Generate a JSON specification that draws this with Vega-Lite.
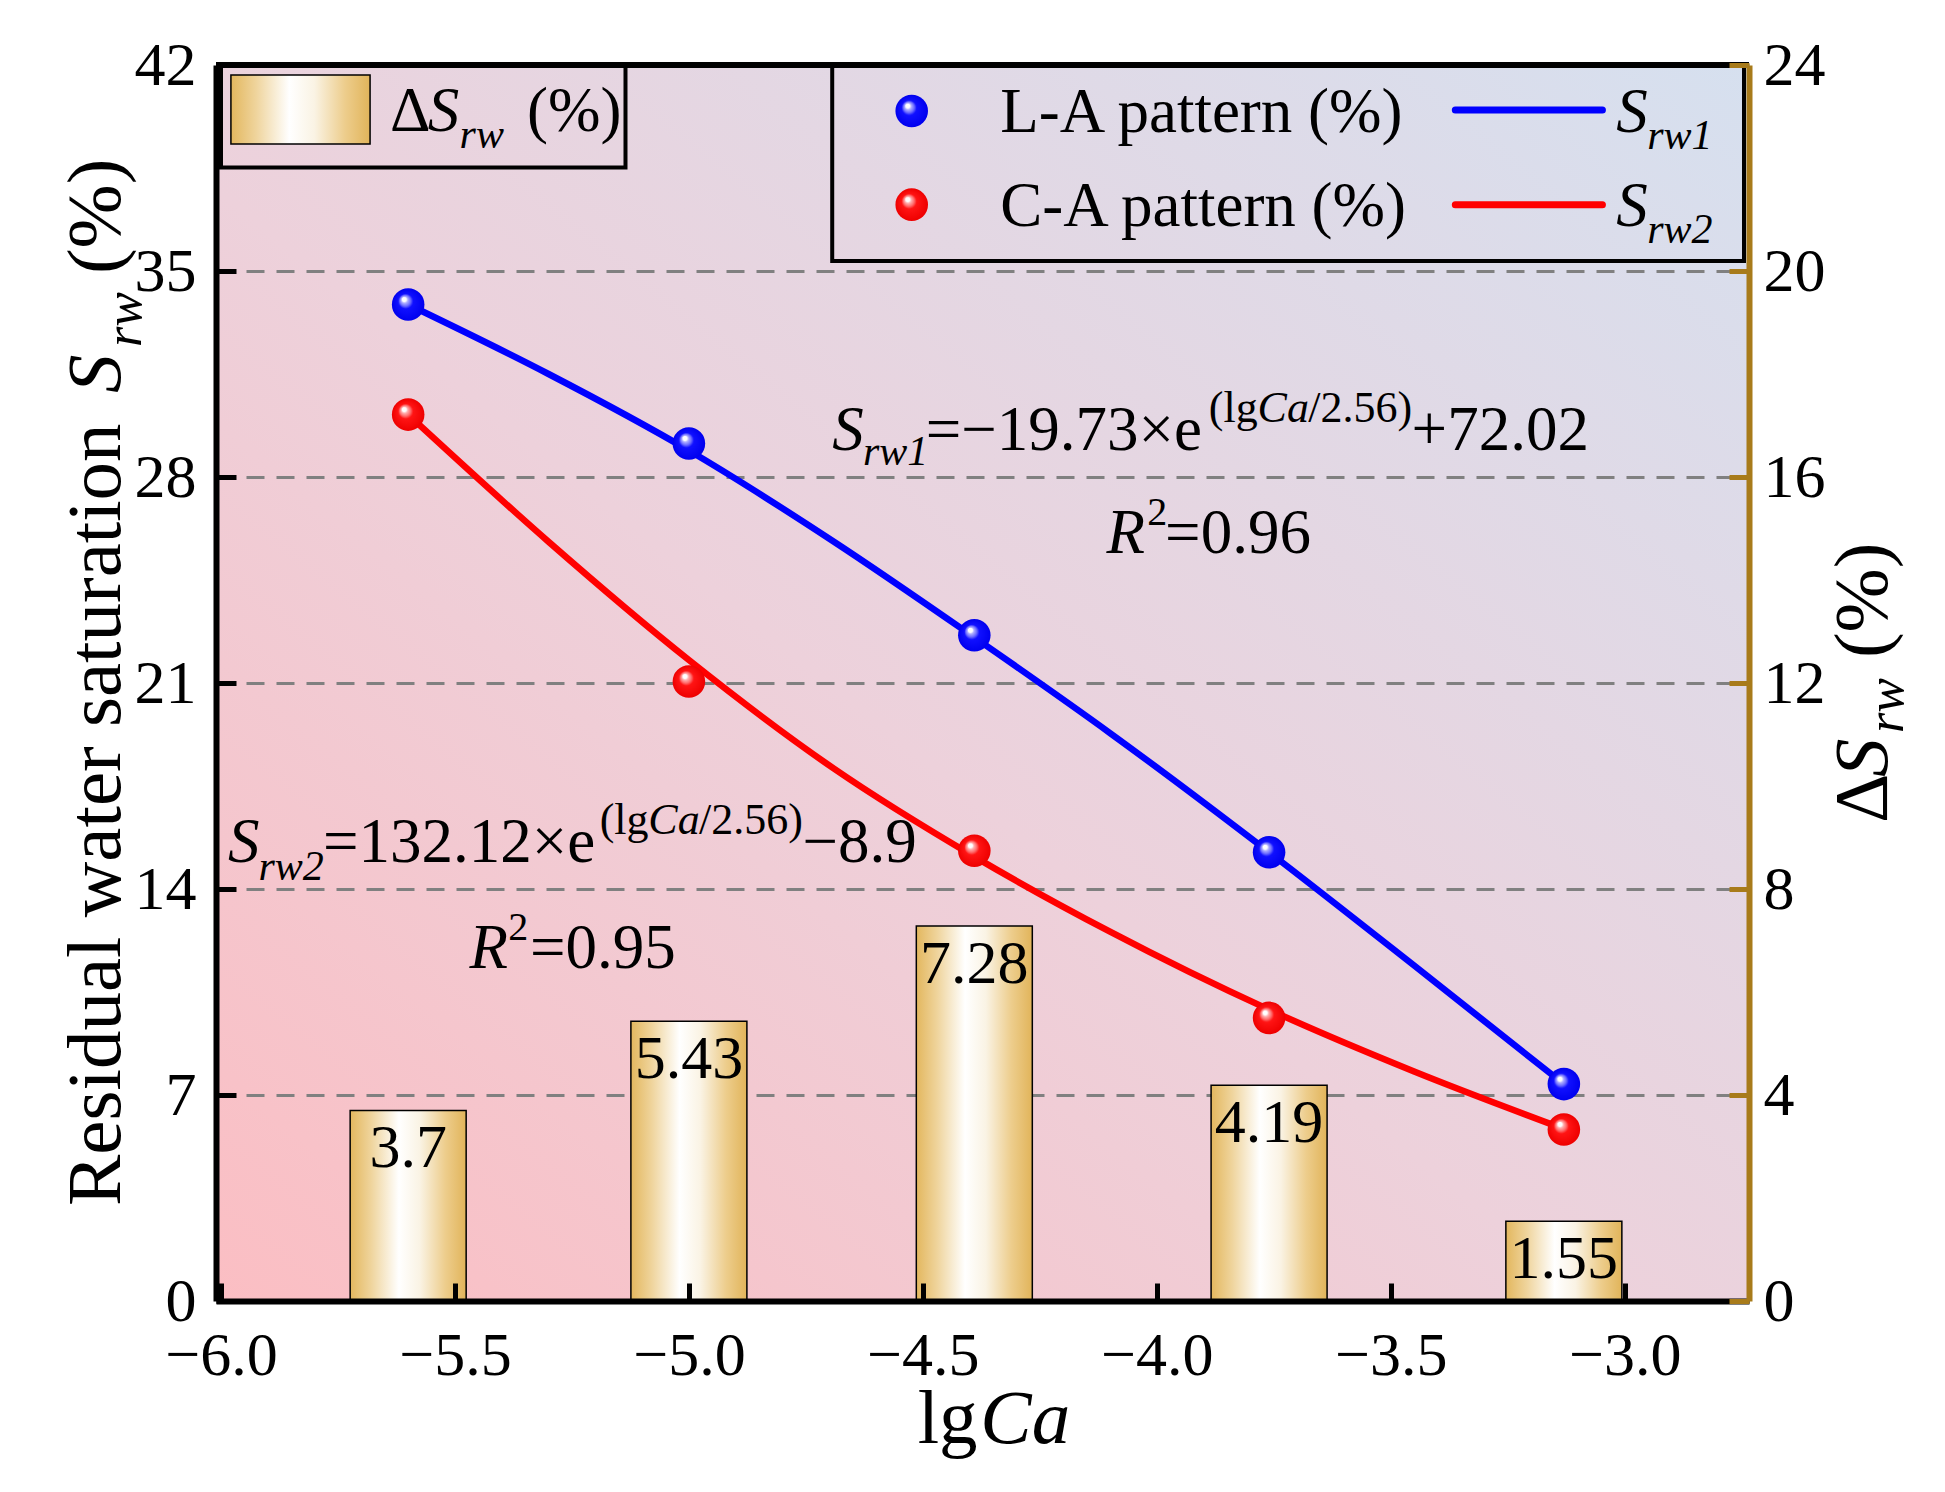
{
  "$schema": "https://vega.github.io/schema/vega-lite/v6.json",
  "width": 1533,
  "height": 1236,
  "autosize": {"type": "none"},
  "padding": {"left": 216, "top": 65, "right": 196, "bottom": 191},
  "background": "white",
  "config": {
    "view": {
      "stroke": null,
      "fill": {
        "gradient": "linear", "x1": 0, "y1": 1, "x2": 1, "y2": 0,
        "stops": [
          {"offset": 0, "color": "#FBBEC3"},
          {"offset": 0.45, "color": "#EDD1DB"},
          {"offset": 1, "color": "#D6E0EF"}
        ]
      }
    },
    "text": {"font": "Liberation Serif", "fontSize": 63, "align": "left", "baseline": "alphabetic", "color": "black"},
    "axis": {"labelFont": "Liberation Serif", "labelFontSize": 62, "labelColor": "black", "labelFlush": false, "labelOverlap": false, "tickWidth": 5, "domainWidth": 6}
  },
  "datasets": {
    "measured": [
      {"lgCa": -5.6, "LA": 33.86, "CA": 30.12, "dSrw": 3.7},
      {"lgCa": -5.0, "LA": 29.14, "CA": 21.05, "dSrw": 5.43},
      {"lgCa": -4.39, "LA": 22.62, "CA": 15.3, "dSrw": 7.28},
      {"lgCa": -3.76, "LA": 15.25, "CA": 9.62, "dSrw": 4.19},
      {"lgCa": -3.13, "LA": 7.37, "CA": 5.83, "dSrw": 1.55}
    ],
    "curves": [
      {"lgCa": -5.6, "Srw1": 33.86, "Srw2": 30.12},
      {"lgCa": -5.3, "Srw1": 31.5, "Srw2": 25.8},
      {"lgCa": -5.0, "Srw1": 28.9, "Srw2": 21.78},
      {"lgCa": -4.69, "Srw1": 25.8, "Srw2": 18.09},
      {"lgCa": -4.39, "Srw1": 22.55, "Srw2": 15.1},
      {"lgCa": -4.1, "Srw1": 19.3, "Srw2": 12.55},
      {"lgCa": -3.76, "Srw1": 15.25, "Srw2": 9.9},
      {"lgCa": -3.45, "Srw1": 11.4, "Srw2": 7.8},
      {"lgCa": -3.13, "Srw1": 7.37, "Srw2": 5.85}
    ]
  },
  "layer": [
    {
      "data": {"name": "measured"},
      "layer": [
        {
          "mark": {
            "type": "bar", "width": 116, "stroke": "black", "strokeWidth": 1.5,
            "fill": {
              "gradient": "linear", "x1": 0, "y1": 0, "x2": 1, "y2": 0,
              "stops": [
                {"offset": 0, "color": "#E3B75E"},
                {"offset": 0.18, "color": "#EFD49C"},
                {"offset": 0.42, "color": "#FFFFFF"},
                {"offset": 0.6, "color": "#FAF3E4"},
                {"offset": 0.82, "color": "#EDCD8C"},
                {"offset": 1, "color": "#E1B45A"}
              ]
            }
          },
          "encoding": {
            "x": {
              "field": "lgCa", "type": "quantitative", "title": null,
              "scale": {"domain": [-6, -2.745], "nice": false, "zero": false},
              "axis": {"orient": "bottom", "title": null, "values": [-6, -5.5, -5, -4.5, -4, -3.5, -3], "format": ".1f", "grid": false, "domainColor": "black", "tickColor": "black", "tickSize": -18, "labelPadding": 42, "zindex": 1}
            },
            "y": {
              "field": "dSrw", "type": "quantitative", "title": null,
              "scale": {"domain": [0, 24], "nice": false},
              "axis": {"orient": "right", "title": null, "values": [0, 4, 8, 12, 16, 20, 24], "grid": false, "domainColor": "#A87B1A", "tickColor": "#A87B1A", "tickSize": -20, "labelPadding": 34, "zindex": 1}
            }
          }
        },
        {
          "mark": {"type": "text", "align": "center", "dy": 57, "fontSize": 62},
          "encoding": {
            "x": {"field": "lgCa", "type": "quantitative", "title": null},
            "y": {"field": "dSrw", "type": "quantitative", "title": null},
            "text": {"field": "dSrw", "type": "quantitative"}
          }
        }
      ]
    },
    {
      "layer": [
        {
          "data": {"name": "curves"},
          "mark": {"type": "line", "color": "#0000FF", "strokeWidth": 6.5, "interpolate": "monotone"},
          "encoding": {
            "x": {"field": "lgCa", "type": "quantitative", "title": null},
            "y": {
              "field": "Srw1", "type": "quantitative", "title": null,
              "scale": {"domain": [0, 42], "nice": false},
              "axis": {"orient": "left", "title": null, "values": [0, 7, 14, 21, 28, 35, 42], "grid": true, "gridDash": [18, 12], "gridColor": "#808080", "gridWidth": 3, "domainColor": "black", "tickColor": "black", "tickSize": -20, "labelPadding": 40}
            }
          }
        },
        {
          "data": {"name": "curves"},
          "mark": {"type": "line", "color": "#FF0000", "strokeWidth": 6.5, "interpolate": "monotone"},
          "encoding": {
            "x": {"field": "lgCa", "type": "quantitative", "title": null},
            "y": {"field": "Srw2", "type": "quantitative", "title": null}
          }
        },
        {
          "data": {"name": "measured"},
          "mark": {
            "type": "point", "shape": "circle", "filled": true, "size": 1060, "opacity": 1, "strokeWidth": 0,
            "fill": {
              "gradient": "radial", "x1": 0.36, "y1": 0.32, "r1": 0, "x2": 0.5, "y2": 0.5, "r2": 0.5,
              "stops": [
                {"offset": 0, "color": "#FFFFFF"},
                {"offset": 0.13, "color": "#FFFFFF"},
                {"offset": 0.2, "color": "#B0B0FF"},
                {"offset": 0.34, "color": "#6A6AFF"},
                {"offset": 0.46, "color": "#1010FF"},
                {"offset": 1, "color": "#0000EE"}
              ]
            }
          },
          "encoding": {
            "x": {"field": "lgCa", "type": "quantitative", "title": null},
            "y": {"field": "LA", "type": "quantitative", "title": null}
          }
        },
        {
          "data": {"name": "measured"},
          "mark": {
            "type": "point", "shape": "circle", "filled": true, "size": 1060, "opacity": 1, "strokeWidth": 0,
            "fill": {
              "gradient": "radial", "x1": 0.36, "y1": 0.32, "r1": 0, "x2": 0.5, "y2": 0.5, "r2": 0.5,
              "stops": [
                {"offset": 0, "color": "#FFFFFF"},
                {"offset": 0.13, "color": "#FFFFFF"},
                {"offset": 0.2, "color": "#FFB0B0"},
                {"offset": 0.34, "color": "#FF6A6A"},
                {"offset": 0.46, "color": "#FF1414"},
                {"offset": 1, "color": "#EE0000"}
              ]
            }
          },
          "encoding": {
            "x": {"field": "lgCa", "type": "quantitative", "title": null},
            "y": {"field": "CA", "type": "quantitative", "title": null}
          }
        },
        {
          "data": {"values": [{}]},
          "layer": [
            {"mark": {"type": "rule", "color": "black", "strokeWidth": 6}, "encoding": {"y": {"datum": 42}}},

            {"mark": {"type": "rect", "fill": "transparent", "stroke": "black", "strokeWidth": 4},
             "encoding": {"x": {"datum": -6}, "x2": {"datum": -5.1355}, "y": {"datum": 42}, "y2": {"datum": 38.515}}},
            {"mark": {
              "type": "rect", "stroke": "black", "strokeWidth": 1.5,
              "fill": {
                "gradient": "linear", "x1": 0, "y1": 0, "x2": 1, "y2": 0,
                "stops": [
                  {"offset": 0, "color": "#E3B75E"},
                  {"offset": 0.18, "color": "#EFD49C"},
                  {"offset": 0.42, "color": "#FFFFFF"},
                  {"offset": 0.6, "color": "#FAF3E4"},
                  {"offset": 0.82, "color": "#EDCD8C"},
                  {"offset": 1, "color": "#E1B45A"}
                ]
              }
             },
             "encoding": {"x": {"datum": -5.9788}, "x2": {"datum": -5.6814}, "y": {"datum": 41.658}, "y2": {"datum": 39.314}}},
            {"mark": {"type": "text", "text": "Δ"}, "encoding": {"x": {"datum": -5.6389}, "y": {"datum": 39.755}}},
            {"mark": {"type": "text", "text": "S", "fontStyle": "italic"}, "encoding": {"x": {"datum": -5.5582}, "y": {"datum": 39.755}}},
            {"mark": {"type": "text", "text": "rw", "fontStyle": "italic", "fontSize": 42}, "encoding": {"x": {"datum": -5.4902}, "y": {"datum": 39.195}}},
            {"mark": {"type": "text", "text": "(%)"}, "encoding": {"x": {"datum": -5.3458}, "y": {"datum": 39.755}}},

            {"mark": {"type": "rect", "fill": "transparent", "stroke": "black", "strokeWidth": 4},
             "encoding": {"x": {"datum": -4.6937}, "x2": {"datum": -2.745}, "y": {"datum": 42}, "y2": {"datum": 35.338}}},
            {"mark": {
              "type": "point", "shape": "circle", "filled": true, "size": 1060, "opacity": 1, "strokeWidth": 0,
              "fill": {
                "gradient": "radial", "x1": 0.36, "y1": 0.32, "r1": 0, "x2": 0.5, "y2": 0.5, "r2": 0.5,
                "stops": [
                  {"offset": 0, "color": "#FFFFFF"},
                  {"offset": 0.13, "color": "#FFFFFF"},
                  {"offset": 0.2, "color": "#B0B0FF"},
                  {"offset": 0.34, "color": "#6A6AFF"},
                  {"offset": 0.46, "color": "#1010FF"},
                  {"offset": 1, "color": "#0000EE"}
                ]
              }
             },
             "encoding": {"x": {"datum": -4.5238}, "y": {"datum": 40.435}}},
            {"mark": {
              "type": "point", "shape": "circle", "filled": true, "size": 1060, "opacity": 1, "strokeWidth": 0,
              "fill": {
                "gradient": "radial", "x1": 0.36, "y1": 0.32, "r1": 0, "x2": 0.5, "y2": 0.5, "r2": 0.5,
                "stops": [
                  {"offset": 0, "color": "#FFFFFF"},
                  {"offset": 0.13, "color": "#FFFFFF"},
                  {"offset": 0.2, "color": "#FFB0B0"},
                  {"offset": 0.34, "color": "#FF6A6A"},
                  {"offset": 0.46, "color": "#FF1414"},
                  {"offset": 1, "color": "#EE0000"}
                ]
              }
             },
             "encoding": {"x": {"datum": -4.5238}, "y": {"datum": 37.255}}},
            {"mark": {"type": "text", "text": "L-A pattern (%)"}, "encoding": {"x": {"datum": -4.3347}, "y": {"datum": 39.721}}},
            {"mark": {"type": "text", "text": "C-A pattern (%)"}, "encoding": {"x": {"datum": -4.3347}, "y": {"datum": 36.541}}},
            {"mark": {"type": "rule", "color": "#0000FF", "strokeWidth": 7, "strokeCap": "round"},
             "encoding": {"x": {"datum": -3.362}, "x2": {"datum": -3.0476}, "y": {"datum": 40.469}}},
            {"mark": {"type": "rule", "color": "#FF0000", "strokeWidth": 7, "strokeCap": "round"},
             "encoding": {"x": {"datum": -3.362}, "x2": {"datum": -3.0476}, "y": {"datum": 37.255}}},
            {"mark": {"type": "text", "text": "S", "fontStyle": "italic"}, "encoding": {"x": {"datum": -3.0178}, "y": {"datum": 39.721}}},
            {"mark": {"type": "text", "text": "rw1", "fontStyle": "italic", "fontSize": 42}, "encoding": {"x": {"datum": -2.952}, "y": {"datum": 39.144}}},
            {"mark": {"type": "text", "text": "S", "fontStyle": "italic"}, "encoding": {"x": {"datum": -3.0178}, "y": {"datum": 36.541}}},
            {"mark": {"type": "text", "text": "rw2", "fontStyle": "italic", "fontSize": 42}, "encoding": {"x": {"datum": -2.952}, "y": {"datum": 35.963}}},

            {"mark": {"type": "text", "text": "S", "fontStyle": "italic"}, "encoding": {"x": {"datum": -4.6937}, "y": {"datum": 28.916}}},
            {"mark": {"type": "text", "text": "rw1", "fontStyle": "italic", "fontSize": 42}, "encoding": {"x": {"datum": -4.6279}, "y": {"datum": 28.406}}},
            {"mark": {"type": "text", "text": "=−19.73×e"}, "encoding": {"x": {"datum": -4.494}, "y": {"datum": 28.916}}},
            {"mark": {"type": "text", "text": "(lg", "fontSize": 44}, "encoding": {"x": {"datum": -3.8887}, "y": {"datum": 29.867}}},
            {"mark": {"type": "text", "text": "Ca", "fontStyle": "italic", "fontSize": 44}, "encoding": {"x": {"datum": -3.7846}, "y": {"datum": 29.867}}},
            {"mark": {"type": "text", "text": "/2.56)", "fontSize": 44}, "encoding": {"x": {"datum": -3.6763}, "y": {"datum": 29.867}}},
            {"mark": {"type": "text", "text": "+72.02"}, "encoding": {"x": {"datum": -3.4554}, "y": {"datum": 28.916}}},
            {"mark": {"type": "text", "text": "R", "fontStyle": "italic"}, "encoding": {"x": {"datum": -4.1075}, "y": {"datum": 25.416}}},
            {"mark": {"type": "text", "text": "2", "fontSize": 40}, "encoding": {"x": {"datum": -4.0204}, "y": {"datum": 26.368}}},
            {"mark": {"type": "text", "text": "=0.96"}, "encoding": {"x": {"datum": -3.9822}, "y": {"datum": 25.416}}},

            {"mark": {"type": "text", "text": "S", "fontStyle": "italic"}, "encoding": {"x": {"datum": -5.9851}, "y": {"datum": 14.917}}},
            {"mark": {"type": "text", "text": "rw2", "fontStyle": "italic", "fontSize": 42}, "encoding": {"x": {"datum": -5.9201}, "y": {"datum": 14.305}}},
            {"mark": {"type": "text", "text": "=132.12×e"}, "encoding": {"x": {"datum": -5.7821}, "y": {"datum": 14.917}}},
            {"mark": {"type": "text", "text": "(lg", "fontSize": 44}, "encoding": {"x": {"datum": -5.1907}, "y": {"datum": 15.868}}},
            {"mark": {"type": "text", "text": "Ca", "fontStyle": "italic", "fontSize": 44}, "encoding": {"x": {"datum": -5.0867}, "y": {"datum": 15.868}}},
            {"mark": {"type": "text", "text": "/2.56)", "fontSize": 44}, "encoding": {"x": {"datum": -4.9783}, "y": {"datum": 15.868}}},
            {"mark": {"type": "text", "text": "−8.9"}, "encoding": {"x": {"datum": -4.7574}, "y": {"datum": 14.917}}},
            {"mark": {"type": "text", "text": "R", "fontStyle": "italic"}, "encoding": {"x": {"datum": -5.469}, "y": {"datum": 11.332}}},
            {"mark": {"type": "text", "text": "2", "fontSize": 40}, "encoding": {"x": {"datum": -5.3862}, "y": {"datum": 12.283}}},
            {"mark": {"type": "text", "text": "=0.95"}, "encoding": {"x": {"datum": -5.3394}, "y": {"datum": 11.332}}},

            {"mark": {"type": "text", "text": "lg", "fontSize": 77}, "encoding": {"x": {"datum": -4.511}, "y": {"datum": -4.825}}},
            {"mark": {"type": "text", "text": "Ca", "fontSize": 77, "fontStyle": "italic"}, "encoding": {"x": {"datum": -4.3772}, "y": {"datum": -4.825}}},

            {"mark": {"type": "text", "text": "Residual water saturation", "fontSize": 77, "angle": 270}, "encoding": {"x": {"datum": -6.2167}, "y": {"datum": 3.228}}},
            {"mark": {"type": "text", "text": "S", "fontSize": 77, "fontStyle": "italic", "angle": 270}, "encoding": {"x": {"datum": -6.2167}, "y": {"datum": 30.853}}},
            {"mark": {"type": "text", "text": "rw", "fontSize": 52, "fontStyle": "italic", "angle": 270}, "encoding": {"x": {"datum": -6.172}, "y": {"datum": 32.416}}},
            {"mark": {"type": "text", "text": "(%)", "fontSize": 77, "angle": 270}, "encoding": {"x": {"datum": -6.2167}, "y": {"datum": 34.896}}},

            {"mark": {"type": "text", "text": "Δ", "fontSize": 77, "angle": 270}, "encoding": {"x": {"datum": -2.4401}, "y": {"datum": 16.242}}},
            {"mark": {"type": "text", "text": "S", "fontSize": 77, "fontStyle": "italic", "angle": 270}, "encoding": {"x": {"datum": -2.4401}, "y": {"datum": 17.805}}},
            {"mark": {"type": "text", "text": "rw", "fontSize": 52, "fontStyle": "italic", "angle": 270}, "encoding": {"x": {"datum": -2.4061}, "y": {"datum": 19.3}}},
            {"mark": {"type": "text", "text": "(%)", "fontSize": 77, "angle": 270}, "encoding": {"x": {"datum": -2.4401}, "y": {"datum": 21.848}}}
          ]
        }
      ]
    }
  ],
  "resolve": {"scale": {"y": "independent"}}
}
